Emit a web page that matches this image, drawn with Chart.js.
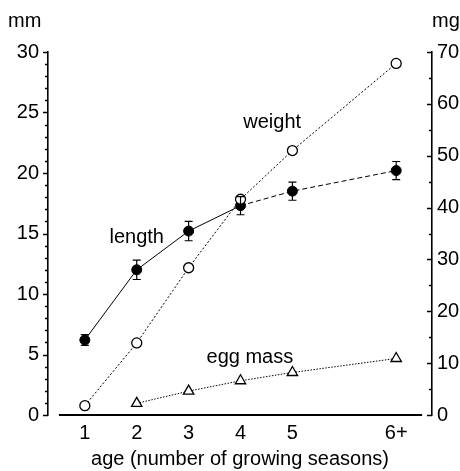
<!DOCTYPE html>
<html><head><meta charset="utf-8">
<script src="https://cdn.jsdelivr.net/npm/chart.js@4.4.1/dist/chart.umd.min.js"></script>
<style>html,body{margin:0;padding:0;background:#fff;}#wrap{width:460px;height:471px;position:relative;}</style>
</head><body><div id="wrap"><canvas id="c"></canvas></div>
<script>
// ---- data ----
const ageLabels = ['1', '2', '3', '4', '5', '6+'];
const agePositions = [1, 2, 3, 4, 5, 7];
const lengthMm = [6.2, 12.0, 15.2, 17.3, 18.5, 20.2];
const lengthErr = [0.45, 0.8, 0.8, 0.75, 0.75, 0.75];
const weightMg = [1.8, 13.9, 28.4, 41.6, 51.0, 67.8];
const eggMassMg = [null, 2.25, 4.6, 6.6, 8.2, 10.9];
const leftTickValues = [0, 5, 10, 15, 20, 25, 30];
const rightTickValues = [0, 10, 20, 30, 40, 50, 60, 70];
const seriesNames = ['length', 'weight', 'egg mass'];

const FAMILY = '"Liberation Sans", Arial, Helvetica, sans-serif';
const FS = 20;
const pts = (ys) => agePositions.map((x, i) => ({x: x, y: ys[i]}));

const decor = {
  id: 'decor',
  afterDatasetsDraw(chart) {
    const ctx = chart.ctx, xs = chart.scales.x, yl = chart.scales.y;
    ctx.save();
    ctx.strokeStyle = '#000';
    ctx.lineWidth = 1.2;
    agePositions.forEach((xv, i) => {
      const px = xs.getPixelForValue(xv);
      const t = yl.getPixelForValue(lengthMm[i] + lengthErr[i]);
      const b = yl.getPixelForValue(lengthMm[i] - lengthErr[i]);
      ctx.beginPath();
      ctx.moveTo(px, t); ctx.lineTo(px, b);
      ctx.moveTo(px - 4, t); ctx.lineTo(px + 4, t);
      ctx.moveTo(px - 4, b); ctx.lineTo(px + 4, b);
      ctx.stroke();
    });
    ctx.restore();
  },
  afterDraw(chart) {
    const ctx = chart.ctx, xs = chart.scales.x, yl = chart.scales.y, yr = chart.scales.y1;
    const area = chart.chartArea;
    ctx.save();
    ctx.strokeStyle = '#000';
    // detached x axis line
    ctx.lineWidth = 2.2;
    ctx.beginPath();
    ctx.moveTo(xs.getPixelForValue(0.5), area.bottom);
    ctx.lineTo(xs.getPixelForValue(7.5), area.bottom);
    ctx.stroke();
    // left ticks (outward), minor every 1
    ctx.lineWidth = 1.4;
    ctx.beginPath();
    for (let v = 0; v <= 30; v += 1) {
      const py = Math.round(yl.getPixelForValue(v)) + 0.5;
      const len = v % 5 === 0 ? 5 : 3;
      ctx.moveTo(area.left - len, py); ctx.lineTo(area.left, py);
    }
    // right ticks (inward), minor every 5
    for (let v = 0; v <= 70; v += 5) {
      const py = Math.round(yr.getPixelForValue(v)) + 0.5;
      const len = v % 10 === 0 ? 5 : 3;
      ctx.moveTo(area.right - len, py); ctx.lineTo(area.right, py);
    }
    ctx.stroke();
    // unit labels and series labels
    ctx.fillStyle = '#000';
    ctx.font = FS + 'px ' + FAMILY;
    ctx.textBaseline = 'middle';
    ctx.textAlign = 'left';
    ctx.fillText('mm', 8, 21);
    ctx.fillText('mg', 432, 21);
    ctx.textAlign = 'center';
    ctx.fillText(seriesNames[0], xs.getPixelForValue(2.0), yl.getPixelForValue(14.7));
    ctx.fillText(seriesNames[1], xs.getPixelForValue(4.61), yl.getPixelForValue(24.2));
    ctx.fillText(seriesNames[2], xs.getPixelForValue(4.18), yl.getPixelForValue(4.75));
    ctx.restore();
  }
};

new Chart(document.getElementById('c'), {
  type: 'line',
  data: {
    datasets: [
      {
        label: seriesNames[1], data: pts(weightMg), yAxisID: 'y1', order: 0,
        borderColor: '#000', borderWidth: 1, borderDash: [2, 2],
        pointStyle: 'circle', pointRadius: 5, pointBackgroundColor: '#fff',
        pointBorderColor: '#000', pointBorderWidth: 1.3
      },
      {
        label: seriesNames[0], data: pts(lengthMm), yAxisID: 'y', order: 1,
        borderColor: '#000', borderWidth: 1,
        segment: { borderDash: c => c.p0DataIndex >= 3 ? [5, 3] : undefined },
        pointStyle: 'circle', pointRadius: 5, pointBackgroundColor: '#000',
        pointBorderColor: '#000', pointBorderWidth: 1
      },
      {
        label: seriesNames[2], data: pts(eggMassMg), yAxisID: 'y1', order: 2,
        borderColor: '#000', borderWidth: 1, borderDash: [1.5, 1.5],
        pointStyle: 'triangle', pointRadius: 6, pointBackgroundColor: '#fff',
        pointBorderColor: '#000', pointBorderWidth: 1.3
      }
    ]
  },
  options: {
    responsive: true, maintainAspectRatio: false, animation: false,
    layout: { padding: { top: 52, left: 0, right: 0, bottom: 0 } },
    plugins: { legend: { display: false }, tooltip: { enabled: false } },
    scales: {
      x: {
        type: 'linear', min: 0.29, max: 7.69,
        afterBuildTicks: s => { s.ticks = agePositions.map(v => ({value: v})); },
        afterFit: s => { s.height = 56; },
        ticks: {
          autoSkip: false, maxRotation: 0, padding: 6, color: '#000',
          font: { family: FAMILY, size: FS },
          callback: v => { const i = agePositions.indexOf(v); return i >= 0 ? ageLabels[i] : ''; }
        },
        grid: { display: false, drawTicks: false },
        border: { display: false },
        title: { display: true, text: 'age (number of growing seasons)', color: '#000',
                 font: { family: FAMILY, size: FS }, padding: { top: 0, bottom: 0 } }
      },
      y: {
        position: 'left', min: 0, max: 30,
        afterBuildTicks: s => { s.ticks = leftTickValues.map(v => ({value: v})); },
        afterFit: s => { s.width = 48; },
        ticks: { padding: 9, color: '#000', font: { family: FAMILY, size: FS } },
        grid: { display: false, drawTicks: false },
        border: { display: true, color: '#000', width: 1.6 }
      },
      y1: {
        position: 'right', min: 0, max: 70,
        afterBuildTicks: s => { s.ticks = rightTickValues.map(v => ({value: v})); },
        afterFit: s => { s.width = 28; },
        ticks: { padding: 5, color: '#000', font: { family: FAMILY, size: FS } },
        grid: { display: false, drawTicks: false },
        border: { display: true, color: '#000', width: 1.6 }
      }
    }
  },
  plugins: [decor]
});
</script></body></html>
